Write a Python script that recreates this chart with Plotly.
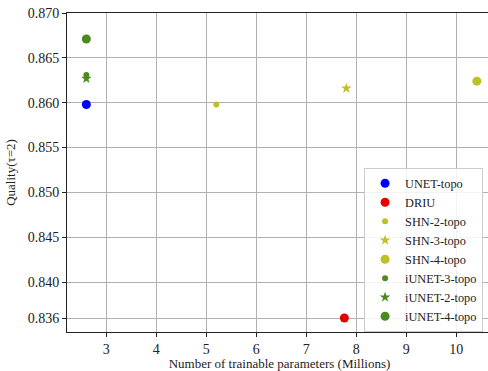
import plotly.graph_objects as go

names = ["UNET-topo", "DRIU", "SHN-2-topo", "SHN-3-topo", "SHN-4-topo",
         "iUNET-3-topo", "iUNET-2-topo", "iUNET-4-topo"]
params_m = [2.6, 7.76, 5.2, 7.8, 10.41, 2.6, 2.6, 2.6]
quality = [0.8598, 0.8360, 0.8598, 0.8616, 0.8624, 0.8631, 0.8627, 0.8671]
colors = ["#0000ff", "#e60000", "#bfbf26", "#bfbf26", "#bfbf26",
          "#4a8a1e", "#4a8a1e", "#4a8a1e"]
symbols = ["circle", "circle", "circle", "star", "circle", "circle", "star", "circle"]
sizes = [9, 9, 6, 8, 9, 6, 8, 9]

xticks = [3, 4, 5, 6, 7, 8, 9, 10]
yticks = [0.836, 0.840, 0.845, 0.850, 0.855, 0.860, 0.865, 0.870]

fig = go.Figure()
for n, x, y, c, s, z in zip(names, params_m, quality, colors, symbols, sizes):
    fig.add_trace(go.Scatter(x=[x], y=[y], mode="markers", name=n,
                             marker=dict(color=c, symbol=s, size=z, line=dict(width=0))))

font = "Liberation Serif"
axis_common = dict(showline=True, linecolor="#222", linewidth=1, mirror=True,
                   ticks="outside", ticklen=4, tickcolor="#222",
                   showgrid=True, gridcolor="#b0b0b0", gridwidth=1,
                   zeroline=False, automargin=False,
                   tickfont=dict(family=font, size=14, color="#222"))
fig.update_layout(
    width=492, height=371,
    margin=dict(l=67, r=0, t=13, b=39),
    paper_bgcolor="white", plot_bgcolor="white",
    font=dict(family=font, size=13, color="#222"),
    xaxis=dict(range=[2.213, 10.713], tickvals=xticks,
               title=dict(text="Number of trainable parameters (Millions)",
                          font=dict(family=font, size=13), standoff=4),
               **axis_common),
    yaxis=dict(range=[0.83444, 0.870], tickvals=yticks, tickformat=".3f",
               title=dict(text="Quality(τ=2)", font=dict(family=font, size=13), standoff=9),
               **axis_common),
    legend=dict(x=0.699, y=0.515, xanchor="left", yanchor="top",
                bgcolor="rgba(255,255,255,0.85)", bordercolor="#cccccc", borderwidth=1,
                font=dict(family=font, size=12.3, color="#222"), tracegroupgap=0,
                itemsizing="trace"),
    showlegend=True,
)
fig.write_html("out.html", config={"displayModeBar": False},
               post_script="document.body.style.margin='0';document.body.style.overflow='hidden';")
